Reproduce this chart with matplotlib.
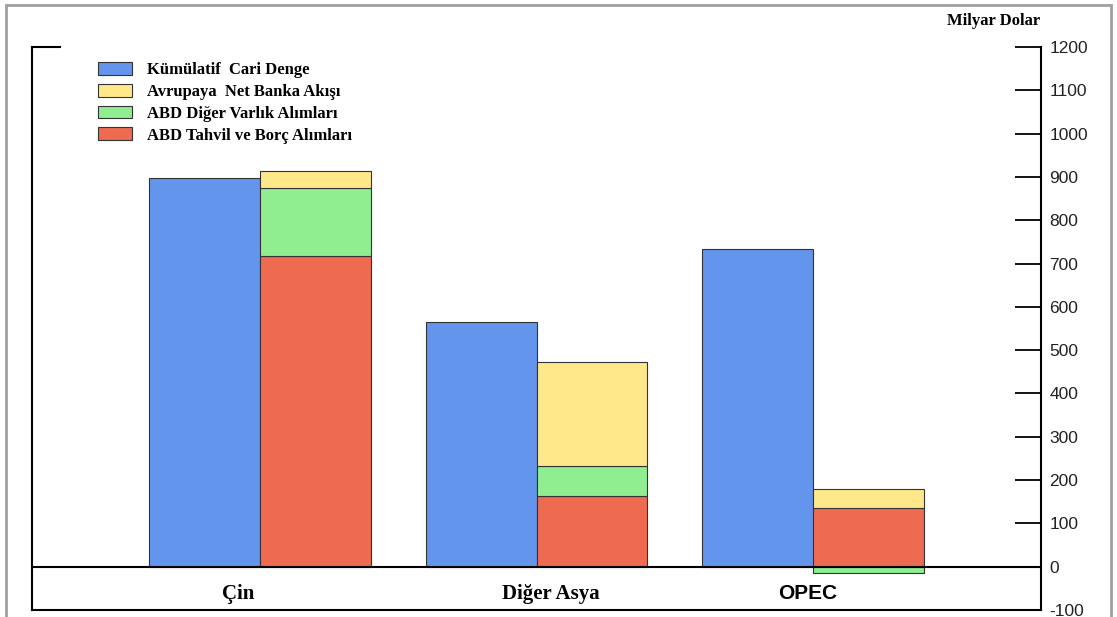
import matplotlib.pyplot as plt
import matplotlib.patches as mpatches
import numpy as np

plt.rcParams["axes.unicode_minus"] = False

# values in billions of dollars
regions = ["Çin", "Diğer Asya", "OPEC"]
cumulative_balance = [898, 565, 734]
us_bond_purchases = [718, 164, 136]
us_other_assets = [157, 69, -14]
europe_bank_flows = [39, 240, 44]

yticks = list(range(-100, 1300, 100))

blue = "#6495ED"
yellow = "#FFE88A"
green = "#90EE90"
red = "#EE6A50"
edge = "#333333"

fig = plt.figure(figsize=(11.17, 6.17), dpi=100)
ax = fig.add_axes([32 / 1117, 1 - 610 / 617, (1041 - 32) / 1117, (610 - 47) / 617])

x = np.arange(len(regions))
w = 0.4
red_vals = np.array(us_bond_purchases)
green_vals = np.array(us_other_assets)
yellow_vals = np.array(europe_bank_flows)

ax.bar(x - w / 2, cumulative_balance, w, color=blue, edgecolor=edge, linewidth=0.8, zorder=2)
ax.bar(x + w / 2, red_vals, w, color=red, edgecolor=edge, linewidth=0.8, zorder=2)
# green sits on red when positive, hangs below zero when negative
green_bottom = np.where(green_vals >= 0, red_vals, 0)
ax.bar(x + w / 2, green_vals, w, bottom=green_bottom, color=green, edgecolor=edge, linewidth=0.8, zorder=2)
yellow_bottom = red_vals + np.clip(green_vals, 0, None)
ax.bar(x + w / 2, yellow_vals, w, bottom=yellow_bottom, color=yellow, edgecolor=edge, linewidth=0.8, zorder=2)

ax.axhline(0, color="black", linewidth=1.5, zorder=3)

ax.set_xlim(-0.825, 2.825)
ax.set_ylim(-100, 1200)
ax.set_xticks([])
ax.set_yticks(yticks)
ax.yaxis.tick_right()
ax.tick_params(axis="y", direction="in", length=19, width=1.3, pad=6,
               labelsize=12.5, labelcolor="#222222")
for lab in ax.get_yticklabels():
    lab.set_family("Liberation Sans")

ax.spines["top"].set_visible(False)
for s in ["left", "right", "bottom"]:
    ax.spines[s].set_linewidth(1.5)

# short cap at the top of the left axis
ax.plot([0, 28 / 1009], [1, 1], transform=ax.transAxes, color="black",
        linewidth=1.5, clip_on=False)

# category labels
label_x = [-0.08, 1.05, 1.98]
label_fonts = ["Liberation Serif", "Liberation Serif", "Liberation Sans"]
for lx, name, fam in zip(label_x, regions, label_fonts):
    ax.text(lx, -62, name, ha="center", va="center", fontsize=15,
            fontweight="bold", family=fam)

fig.text(1040 / 1117, 1 - 21 / 617, "Milyar Dolar", ha="right", va="center",
         fontsize=12, fontweight="bold", family="Liberation Serif")

handles = [
    mpatches.Patch(facecolor=blue, edgecolor=edge, linewidth=0.8, label="Kümülatif  Cari Denge"),
    mpatches.Patch(facecolor=yellow, edgecolor=edge, linewidth=0.8, label="Avrupaya  Net Banka Akışı"),
    mpatches.Patch(facecolor=green, edgecolor=edge, linewidth=0.8, label="ABD Diğer Varlık Alımları"),
    mpatches.Patch(facecolor=red, edgecolor=edge, linewidth=0.8, label="ABD Tahvil ve Borç Alımları"),
]
fig.legend(handles=handles, loc="upper left", bbox_to_anchor=(85 / 1117, 1 - 49 / 617),
           frameon=False, prop={"family": "Liberation Serif", "weight": "bold", "size": 12},
           handlelength=2.0, handleheight=0.8, handletextpad=0.9, labelspacing=0.33,
           borderpad=0.3)

# thin grey frame around the whole image
fig.patches.append(mpatches.Rectangle((6 / 1117, -0.05), (1111 - 6) / 1117, 1.05 - 5 / 617,
                                      transform=fig.transFigure, fill=False,
                                      edgecolor="#A0A0A0", linewidth=2))

fig.savefig("out.png", dpi=100)
